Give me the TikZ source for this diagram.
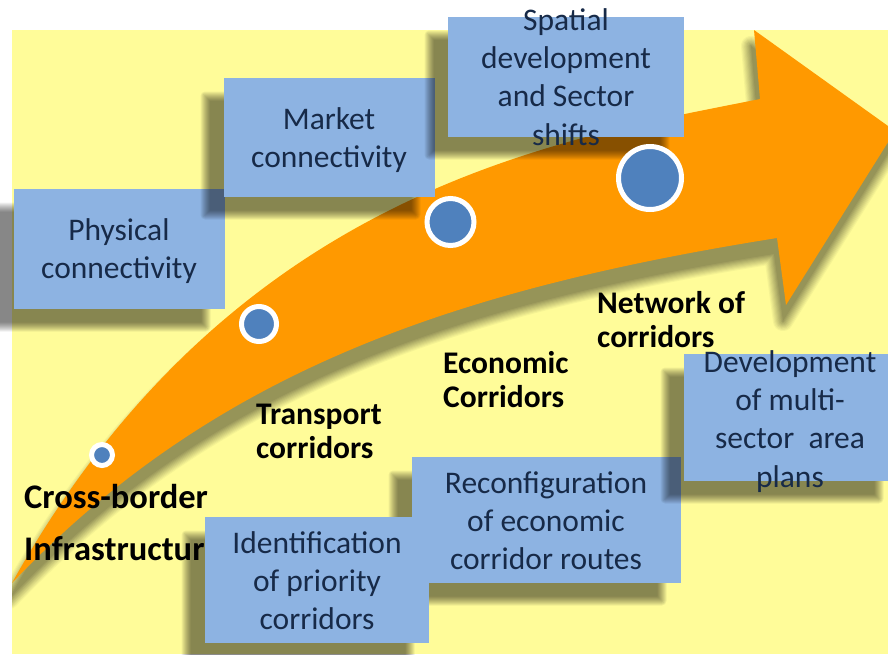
\documentclass[tikz,border=0pt]{standalone}
\usepackage{fontspec}
\setmainfont{Carlito}
\definecolor{bgyellow}{RGB}{255,252,153}
\definecolor{boxblue}{RGB}{141,179,226}
\definecolor{boxtext}{RGB}{23,42,72}
\definecolor{arroworange}{RGB}{255,153,0}
\definecolor{dotblue}{RGB}{79,129,189}
\definecolor{shadowcore}{RGB}{150,148,88}
\tikzset{
  stagebox/.style={rectangle, fill=boxblue, inner sep=0pt},
  boxtxt/.style={anchor=base, inner sep=0pt, text=boxtext, font=\fontsize{31.5}{38.4}\selectfont},
  lbl/.style={anchor=base west, inner sep=0pt, text=black, font=\bfseries\fontsize{31.5}{34.6}\selectfont},
  dot/.style={circle, fill=dotblue, draw=white, line width=5pt, inner sep=0pt},
  shadowlayer/.style={black, opacity=0.058},
}
% soft shadow of a rectangle given by its image corners (x1,y1) (x2,y2)
\newcommand\castshadow[4]{%
  \foreach \i in {1,...,10}{%
    \pgfmathsetmacro\e{-5+(\i-0.5)}%
    \pgfmathsetmacro\rc{max(\e,0.01)}%
    \fill[shadowlayer, rounded corners=\rc pt]
      ({#1-19-\e},{#2+18-\e}) rectangle ({#3-19+\e},{#4+18+\e});
  }%
}
\newcommand\arrowpath{(12,583) .. controls (232,189) and (560,139) .. (760,99)
  -- (754,30) -- (895,131) -- (786,305) -- (777,238)
  .. controls (450,290) and (212,373) .. (12,583) -- cycle}
\begin{document}
\begin{tikzpicture}[x=1pt,y=-1pt]
\useasboundingbox (0,0) rectangle (888,654);
\clip (0,0) rectangle (888,654);
\fill[white] (0,0) rectangle (888,654);
\fill[bgyellow] (12,30) rectangle (888,654);

% soft shadow of the curved arrow (on the yellow ground)
\begin{scope}
  \clip (12,30) rectangle (888,654);
  \foreach \i in {1,...,9}{%
    \pgfmathsetmacro\e{10*(10-\i)/9}%
    \pgfmathsetmacro\pct{100*(1-\e/11)}%
    \pgfmathsetmacro\lw{2*\e}%
    \filldraw[draw=shadowcore!\pct!bgyellow, fill=shadowcore!\pct!bgyellow,
      line width=\lw pt, line join=round, shift={(-3,16)}] \arrowpath;
  }
  \fill[shadowcore, shift={(-3,16)}] \arrowpath;
\end{scope}
% curved arrow
\fill[arroworange] \arrowpath;

% stage labels
\node[lbl, font=\bfseries\fontsize{34.5}{52}\selectfont] (l1) at (24,508) {\begin{tabular}[t]{@{}l@{}}Cross-border\\Infrastructure\end{tabular}};
\node[lbl] (l2) at (256,424) {\begin{tabular}[t]{@{}l@{}}Transport\\corridors\end{tabular}};
\node[lbl] (l3) at (443,373) {\begin{tabular}[t]{@{}l@{}}Economic\\Corridors\end{tabular}};
\node[lbl] (l4) at (597,313) {\begin{tabular}[t]{@{}l@{}}Network of\\corridors\end{tabular}};

% boxes
\castshadow{14}{189}{225}{309}
\node[stagebox, minimum width=211pt, minimum height=120pt] (b1) at (119.5,249) {};
\node[boxtxt] (t1) at (119,240) {\begin{tabular}[t]{@{}c@{}}Physical\\connectivity\end{tabular}};
\castshadow{224}{78}{435}{197}
\node[stagebox, minimum width=211pt, minimum height=119pt] (b2) at (329.5,137.5) {};
\node[boxtxt] (t2) at (329,129) {\begin{tabular}[t]{@{}c@{}}Market\\connectivity\end{tabular}};
\castshadow{448}{17}{684}{137}
\node[stagebox, minimum width=236pt, minimum height=120pt] (b3) at (566,77) {};
\node[boxtxt] (t3) at (566,30) {\begin{tabular}[t]{@{}c@{}}Spatial\\development\\and Sector\\shifts\end{tabular}};
\castshadow{412}{457}{681}{583}
\node[stagebox, minimum width=269pt, minimum height=126pt] (b5) at (546.5,520) {};
\node[boxtxt] (t5) at (546,493) {\begin{tabular}[t]{@{}c@{}}Reconfiguration\\of economic\\corridor routes\end{tabular}};
\castshadow{684}{354}{898}{481}
\node[stagebox, minimum width=214pt, minimum height=127pt] (b6) at (791,417.5) {};
\node[boxtxt] (t6) at (790,372) {\begin{tabular}[t]{@{}c@{}}Development\\of multi-\\sector~~area\\plans\end{tabular}};
\castshadow{205}{517}{429}{643}
\node[stagebox, minimum width=224pt, minimum height=126pt] (b4) at (317,580) {};
\node[boxtxt] (t4) at (317,553) {\begin{tabular}[t]{@{}c@{}}Identification\\of priority\\corridors\end{tabular}};

% milestone dots
\node[dot, minimum size=21pt] (d1) at (102,455) {};
\node[dot, minimum size=35pt] (d2) at (259,324) {};
\node[dot, minimum size=47pt] (d3) at (450.5,222) {};
\node[dot, minimum size=63pt] (d4) at (650,178) {};
\end{tikzpicture}
\end{document}
